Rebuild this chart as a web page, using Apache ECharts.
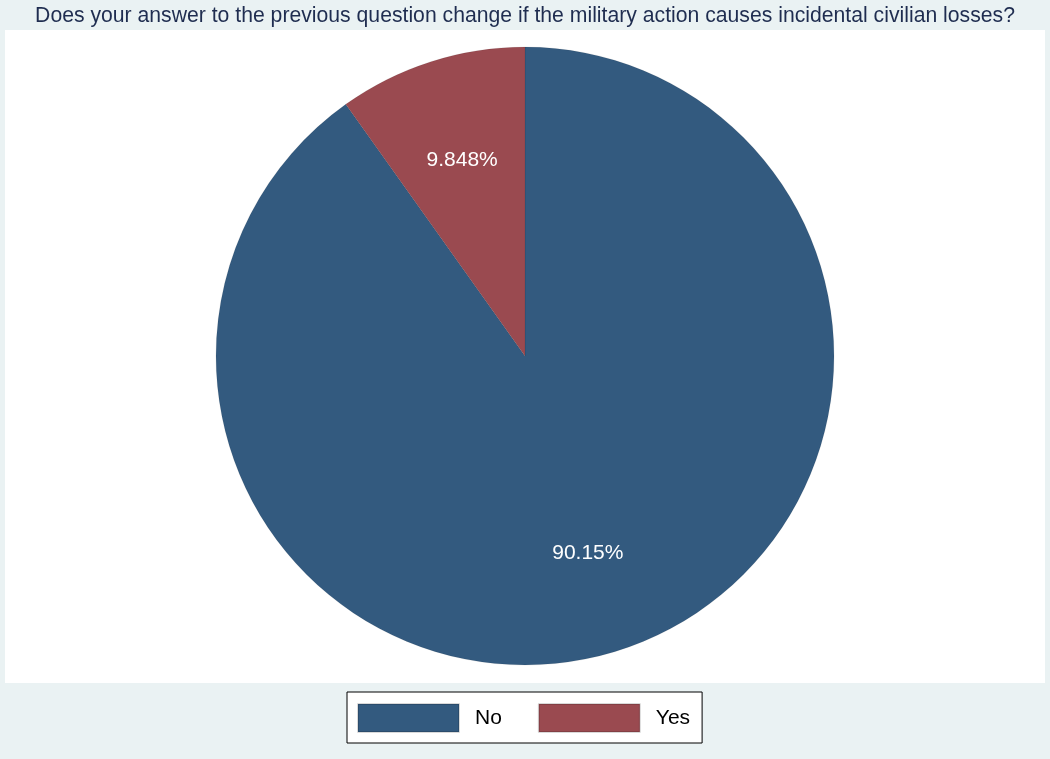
<!DOCTYPE html>
<html>
<head>
<meta charset="utf-8">
<script src="https://cdn.jsdelivr.net/npm/echarts@6/dist/echarts.min.js"></script>
<style>
html,body{margin:0;padding:0;background:#eaf2f3;}
#chart{width:1050px;height:759px;}
</style>
</head>
<body>
<div id="chart"></div>
<script>
const titleText = "Does your answer to the previous question change if the military action causes incidental civilian losses?";
const categories = ["No", "Yes"];
const values = [90.152, 9.848];
const labels = ["90.15%", "9.848%"];
const colors = ["#335a7f", "#9a4a50"];

const CX = 525, CY = 356, R = 309;

const chart = echarts.init(document.getElementById('chart'), null, {renderer: 'canvas'});
chart.setOption({
  backgroundColor: '#eaf2f3',
  animation: false,
  title: {
    text: titleText,
    left: 'center',
    top: 1,
    textStyle: {fontFamily: 'Liberation Sans', fontSize: 21.2, fontWeight: 'normal', color: '#1f2d50'}
  },
  graphic: [{
    type: 'rect', z: -10, silent: true,
    shape: {x: 5, y: 30, width: 1040, height: 653},
    style: {fill: '#ffffff'}
  }],
  legend: {
    data: categories,
    left: 347,
    top: 692,
    itemWidth: 101,
    itemHeight: 28,
    itemGap: 36,
    padding: [11, 12, 10, 10],
    backgroundColor: '#ffffff',
    borderColor: '#000000',
    borderWidth: 1,
    borderRadius: 0,
    icon: 'rect',
    selectedMode: false,
    textStyle: {fontFamily: 'Liberation Sans', fontSize: 21, color: '#000000', padding: [0, 0, 0, 11]}
  },
  series: [{
    type: 'pie',
    center: [CX, CY],
    radius: R,
    startAngle: 90,
    clockwise: true,
    silent: true,
    data: categories.map((c, i) => ({name: c, value: values[i], itemStyle: {color: colors[i]}})),
    itemStyle: {borderColor: 'rgba(0,0,0,0.15)', borderWidth: 0.5},
    label: {
      show: true,
      position: 'inside',
      formatter: p => labels[p.dataIndex],
      color: '#ffffff',
      fontFamily: 'Liberation Sans',
      fontSize: 21
    },
    labelLine: {show: false},
    labelLayout: function (p) {
      const r = p.labelRect;
      const rx = r.x + r.width / 2;
      const ry = r.y + r.height / 2;
      const k = 1.31;
      return {x: CX + (rx - CX) * k, y: CY + (ry - CY) * k + 1};
    }
  }]
});
</script>
</body>
</html>
